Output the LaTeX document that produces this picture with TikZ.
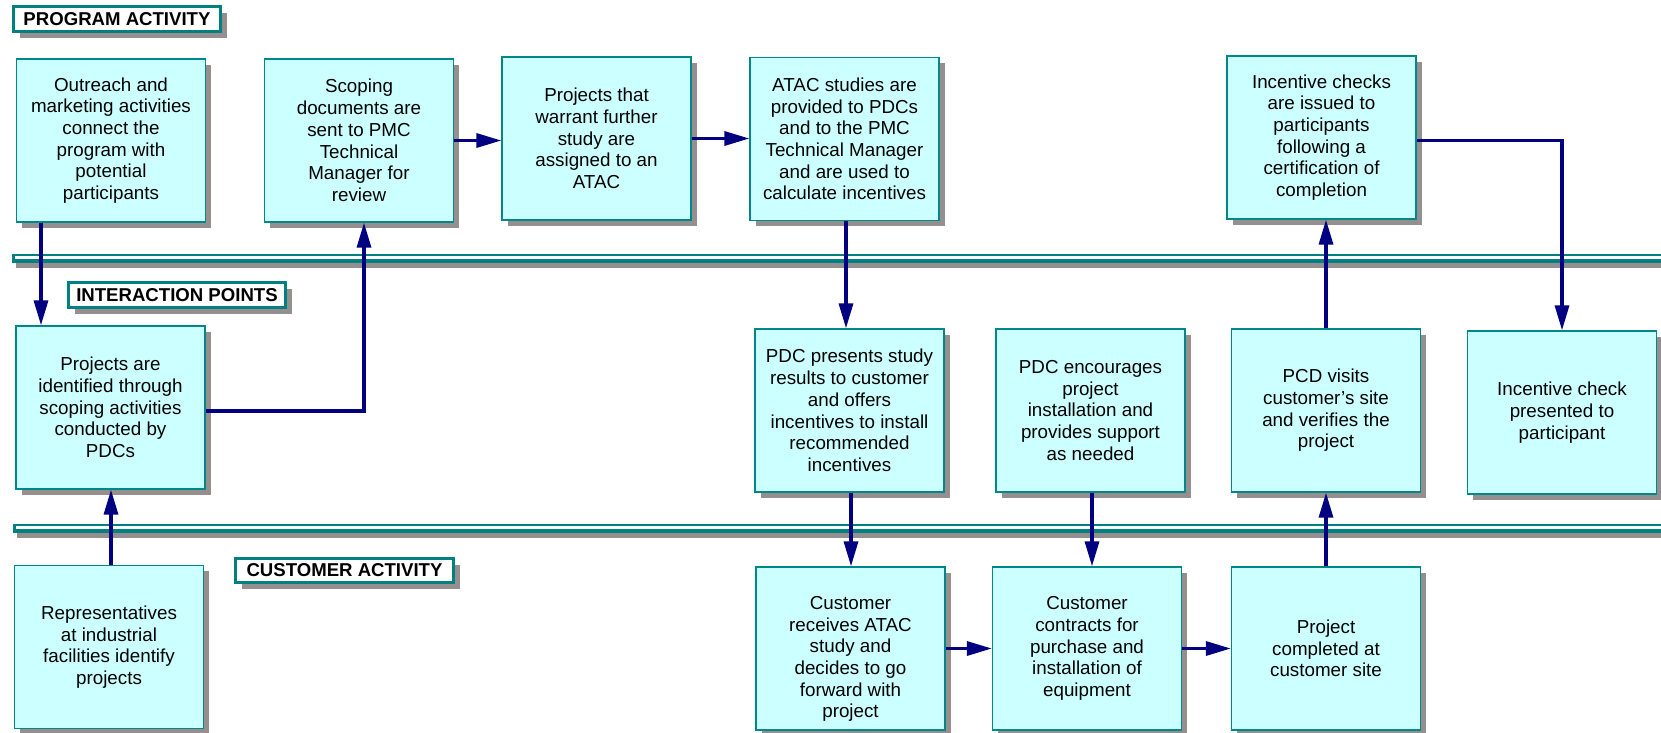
\documentclass[tikz,border=0pt]{standalone}
\usepackage{fontspec}
\setmainfont{Liberation Sans}
\usetikzlibrary{arrows.meta,shadows}
\definecolor{boxfill}{RGB}{204,255,255}
\definecolor{boxline}{RGB}{0,136,136}
\definecolor{teal2}{RGB}{0,128,128}
\definecolor{navy2}{RGB}{0,0,128}
\definecolor{shadowgray}{RGB}{150,143,143}
\begin{document}
\begin{tikzpicture}[x=1pt,y=-1pt,
 stepbox/.style={rectangle, draw=boxline, line width=1.3pt, fill=boxfill,
   minimum width=189pt, minimum height=163pt, inner sep=2pt, align=center,
   font=\fontsize{18.8}{21.7}\selectfont,
   general shadow={shadow xshift=5.5pt, shadow yshift=-5.5pt, fill=shadowgray}},
 headbox/.style={rectangle, draw=teal2, line width=3.3pt, fill=white, inner sep=0pt,
   font=\bfseries\fontsize{18.6}{20}\selectfont,
   general shadow={shadow xshift=6pt, shadow yshift=-6pt, fill=shadowgray}},
 arr/.style={draw=navy2, line width=3.3pt, -{Triangle[length=25pt,width=14pt]}},
 flow/.style={draw=navy2, line width=3.3pt}
]
\useasboundingbox (0,0) rectangle (1661,732);
\fill[white] (0,0) rectangle (1661,732);

% separators
\fill[shadowgray] (16,258) rectangle (1661,268);
\fill[teal2] (12,254) rectangle (1661,263);
\fill[white] (14.5,256.3) rectangle (1661,258.8);
\fill[shadowgray] (17,528) rectangle (1661,538);
\fill[teal2] (13,524) rectangle (1661,533);
\fill[white] (15.5,526.3) rectangle (1661,528.8);

% headers
\node[headbox, minimum width=207pt, minimum height=25pt] (h1) at (117,19) {PROGRAM ACTIVITY};
\node[headbox, minimum width=217pt, minimum height=25pt] (h2) at (177,295) {INTERACTION POINTS};
\node[headbox, minimum width=218pt, minimum height=24pt] (h3) at (344.5,570.5) {CUSTOMER ACTIVITY};

% row 1
\node[stepbox] (B1) at (111,140.5) {Outreach and\\marketing activities\\connect the\\program with\\potential\\participants};
\node[stepbox] (B2) at (359,140.5) {Scoping\\documents are\\sent to PMC\\Technical\\Manager for\\review};
\node[stepbox] (B3) at (596.5,138.5) {Projects that\\warrant further\\study are\\assigned to an\\ATAC};
\node[stepbox] (B4) at (844.5,139) {ATAC studies are\\provided to PDCs\\and to the PMC\\Technical Manager\\and are used to\\calculate incentives};
\node[stepbox] (B5) at (1321.5,137.5) {Incentive checks\\are issued to\\participants\\following a\\certification of\\completion};

% row 2
\node[stepbox] (M1) at (110.5,407.5) {Projects are\\identified through\\scoping activities\\conducted by\\PDCs};
\node[stepbox] (M2) at (849.5,410.5) {PDC presents study\\results to customer\\and offers\\incentives to install\\recommended\\incentives};
\node[stepbox] (M3) at (1090.5,410.5) {PDC encourages\\project\\installation and\\provides support\\as needed};
\node[stepbox] (M4) at (1326,410.5) {PCD visits\\customer’s site\\and verifies the\\project};
\node[stepbox] (M5) at (1562,412.5) {Incentive check\\presented to\\participant};

% row 3
\node[stepbox] (C1) at (109,647) {Representatives\\at industrial\\facilities identify\\projects};
\node[stepbox] (C2) at (850.5,648.5) {\rule{0pt}{34pt}Customer\\receives ATAC\\study and\\decides to go\\forward with\\project};
\node[stepbox] (C3) at (1087,648.5) {Customer\\contracts for\\purchase and\\installation of\\equipment};
\node[stepbox] (C4) at (1326,648.5) {Project\\completed at\\customer site};

% connectors
\draw[arr] ([xshift=-70pt]B1.south) -- ([xshift=-69.5pt]M1.north);
\draw[arr] ([yshift=-3.5pt]M1.east) -| ([xshift=5pt]B2.south);
\draw[arr] (B2.east) -- (B2.east -| B3.west);
\draw[arr] (B3.east) -- (B3.east -| B4.west);
\draw[arr] ([xshift=1.5pt]B4.south) -- ([xshift=1.5pt]B4.south |- M2.north);
\draw[arr] ([xshift=1.5pt]M2.south) -- ([xshift=1.5pt]M2.south |- C2.north);
\draw[arr] ([xshift=1.5pt]M3.south) -- ([xshift=1.5pt]M3.south |- C3.north);
\draw[arr] (C2.east) -- (C2.east -| C3.west);
\draw[arr] (C3.east) -- (C3.east -| C4.west);
\draw[arr] (C4.north) -- (M4.south);
\draw[arr] (M4.north) -- (M4.north |- B5.south);
\draw[arr] ([yshift=-3pt]B5.east) -| (M5.north);
\draw[arr] ([xshift=2pt]C1.north) -- ([xshift=2pt]C1.north |- M1.south);
\end{tikzpicture}
\end{document}
